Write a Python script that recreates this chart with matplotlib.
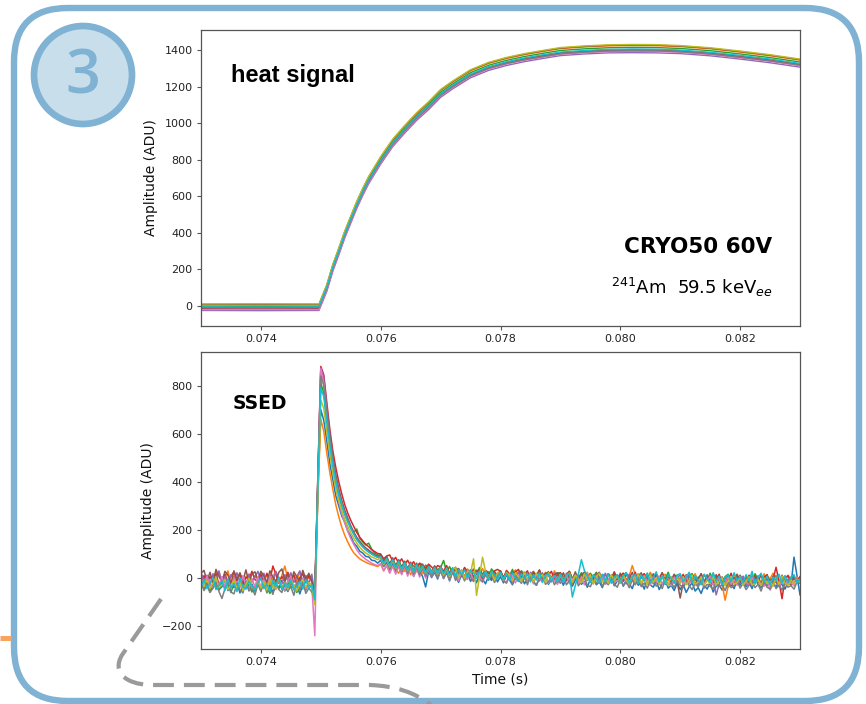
import matplotlib
matplotlib.use("Agg")
import matplotlib.pyplot as plt
from matplotlib.patches import FancyBboxPatch, Circle, PathPatch
from matplotlib.path import Path

# ---------------------------------------------------------------- data
trace_colors = ["#1f77b4", "#ff7f0e", "#2ca02c", "#d62728", "#9467bd",
                "#8c564b", "#e377c2", "#7f7f7f", "#bcbd22", "#17becf"]

# heat channel (ADU) at these times (s)
t_heat = [0.0730, 0.0740, 0.07497, 0.0751, 0.0752, 0.0753, 0.0754, 0.0755,
          0.0756, 0.0757, 0.0758, 0.0760, 0.0762, 0.0764, 0.0766, 0.0768,
          0.0770, 0.0772, 0.0775, 0.0778, 0.0781, 0.0784, 0.0787, 0.0790,
          0.0794, 0.0798, 0.0802, 0.0806, 0.0810, 0.0815, 0.0820, 0.0825, 0.0830]
heat_traces = [
    [-12, -11, -12, 92, 202, 291, 384, 465, 545, 616, 681, 788, 883, 957, 1027, 1086, 1153,
     1199, 1260, 1300, 1327, 1348, 1365, 1381, 1390, 1396, 1397, 1396, 1392, 1380, 1362, 1342, 1318],
    [6, 7, 6, 111, 221, 311, 404, 486, 566, 638, 703, 811, 906, 981, 1051, 1111, 1178,
     1224, 1286, 1326, 1353, 1374, 1391, 1407, 1416, 1422, 1424, 1423, 1418, 1406, 1388, 1368, 1344],
    [-4, -3, -4, 101, 211, 301, 394, 476, 556, 628, 693, 801, 896, 971, 1041, 1101, 1168,
     1214, 1276, 1316, 1343, 1364, 1381, 1397, 1406, 1412, 1414, 1413, 1408, 1396, 1378, 1358, 1334],
    [-16, -15, -16, 89, 199, 289, 382, 464, 544, 616, 681, 789, 884, 959, 1029, 1089, 1156,
     1202, 1264, 1304, 1331, 1352, 1369, 1385, 1394, 1400, 1402, 1401, 1396, 1384, 1366, 1346, 1322],
    [-24, -25, -24, 80, 190, 279, 372, 453, 533, 604, 669, 776, 871, 945, 1015, 1074, 1141,
     1187, 1248, 1288, 1315, 1336, 1353, 1369, 1378, 1384, 1385, 1384, 1380, 1368, 1350, 1330, 1306],
    [9, 10, 9, 114, 224, 314, 407, 489, 569, 641, 706, 814, 909, 984, 1054, 1114, 1181,
     1227, 1289, 1329, 1356, 1377, 1394, 1410, 1419, 1425, 1427, 1426, 1421, 1409, 1391, 1371, 1347],
    [-19, -18, -19, 86, 195, 285, 377, 459, 539, 610, 675, 783, 877, 952, 1022, 1082, 1148,
     1194, 1256, 1296, 1323, 1344, 1360, 1376, 1385, 1391, 1393, 1392, 1387, 1375, 1357, 1338, 1314],
    [-8, -9, -8, 96, 205, 294, 386, 467, 546, 618, 682, 789, 883, 957, 1027, 1086, 1152,
     1198, 1259, 1299, 1326, 1346, 1363, 1379, 1388, 1394, 1396, 1395, 1390, 1378, 1360, 1340, 1317],
    [12, 13, 12, 117, 227, 317, 410, 492, 572, 644, 709, 817, 912, 987, 1057, 1117, 1184,
     1230, 1292, 1332, 1359, 1380, 1397, 1413, 1422, 1428, 1430, 1429, 1424, 1412, 1394, 1374, 1350],
    [0, 1, 0, 104, 213, 302, 394, 476, 555, 626, 691, 798, 892, 966, 1036, 1095, 1161,
     1207, 1268, 1308, 1335, 1356, 1373, 1388, 1397, 1403, 1405, 1404, 1399, 1387, 1370, 1350, 1326],
]

# SSED channel (ADU), digitised every 50 us from t = 0.073 s
ssed_t0 = 0.073
ssed_dt = 5e-5
ssed_traces = [
    [-10, -45, -22, -58, -30, -15, -48, -36, -8, -52, -27, -40, -18, -62, -33, -12, -46, -25, -55, -20,
     -38, -14, -50, -28, -60, -24, -42, -10, -35, -56, -19, -44, -30, -66, -26, -48, -16, -40, -90, 350,
     700, 655, 570, 478, 410, 342, 300, 258, 232, 196, 175, 146, 132, 112, 104, 90, 88, 74, 72, 62,
     74, 48, 66, 34, 58, 28, 50, 18, 44, 22, 40, 8, 36, 30, 6, -37, 28, 2, 24, -4,
     30, -2, 22, -12, 26, 8, -18, 14, -6, 20, -14, 10, -20, 16, -4, -24, 8, -10, 12, -16,
     6, -20, 14, -8, -28, 2, -14, 10, -24, -4, 16, -18, -30, 0, -12, 8, -26, -6, 12, -22,
     -2, -30, 6, -18, -34, -8, 10, -26, -14, -38, -4, 4, -28, -16, -40, -6, -22, 2, -32, -12,
     0, -34, -10, -24, -44, -6, -30, -18, -46, -2, -28, -38, -12, -48, -22, -8, -42, -30, -52, -20,
     -48, -26, -60, -36, -20, -54, -40, -64, -30, -46, -18, -58, -34, -28, -50, -10, -38, -24, -44, -6,
     -30, -8, -36, -18, -44, -4, -26, -40, -14, -32, 0, -22, -38, -12, -28, -46, -16, -30, 87, 10,
     -70],
    [18, -20, 6, -28, 12, -8, 24, -15, 2, 30, -22, 8, -12, 20, -30, 4, 16, -18, 10, -4,
     22, -10, 14, -26, 6, 28, -16, 10, 50, -6, -24, 16, -12, 26, -20, 8, 0, -14, -70, 330,
     660, 610, 520, 440, 370, 305, 255, 212, 178, 150, 125, 105, 92, 80, 72, 66, 60, 56, 52, 48,
     58, 30, 52, 24, 48, 36, 20, 50, 28, 44, 14, 40, 26, 48, 18, 34, 42, 12, 36, 24,
     50, 18, 40, 10, 34, 46, 14, 28, 8, 38, 22, 2, 32, 16, 40, 6, 24, 30, 0, 20,
     30, 4, 22, -6, 18, 34, 0, 14, 26, -10, 16, 28, 2, 20, -8, 24, 10, -4, 30, 6,
     22, -10, 14, 28, -4, 10, -18, 16, 4, 24, -12, 8, 20, -6, 12, -16, 18, 2, -8, 14,
     -6, 20, -14, 8, 52, 14, -20, 4, 18, -10, 24, -4, 10, -22, 6, 16, -12, 2, -18, 12,
     -8, 16, -20, 6, -2, 18, -14, 4, -24, 12, -6, 20, -16, 2, -26, -92, -34, -8, 14, -12,
     10, -18, 2, -26, 14, -8, 6, -20, 18, -14, -2, 20, -10, -28, 8, -16, 12, -4, -22, 4,
     -8],
    [-8, -42, -24, -56, -18, -36, -50, -14, -40, -28, -60, -20, -46, -32, -10, -44, -26, -58, -34, -16,
     -48, -22, -38, -64, -26, -12, -44, -30, -54, -18, -40, -28, -60, -36, -16, -50, -24, -42, -80, 380,
     810, 770, 660, 560, 470, 400, 345, 300, 265, 235, 210, 190, 204, 165, 150, 138, 145, 120, 104, 95,
     96, 70, 88, 60, 80, 52, 74, 46, 68, 38, 62, 50, 44, 60, 32, 54, 40, 28, 50, 34,
     44, 73, 26, 48, 18, 40, 30, 12, 42, 24, 8, 36, 20, 44, 14, 30, 4, 38, 22, 10,
     28, 2, 24, 10, 36, -4, 20, 30, 6, 18, -8, 26, 12, 32, 0, 16, 24, -6, 14, 22,
     20, -6, 12, 26, -2, 16, 0, 22, 8, -10, 18, 4, 24, -4, 10, 16, -12, 6, 20, 0,
     -10, 14, 22, -6, 8, -16, 18, 2, -8, 20, -14, 6, 16, -20, 10, -4, 24, -12, 4, 12,
     -14, 8, -22, 12, 18, -10, 4, -24, 14, -6, 20, -18, 0, 10, -26, 6, 16, -12, 2, -20,
     12, -10, -24, 8, -16, 18, -6, -22, 2, 14, -18, 0, 10, -28, -8, 6, -20, 4, -2, -14,
     -6],
    [-20, 10, -26, 6, -14, 22, -30, -4, 16, -18, 8, 26, -12, 18, -24, 4, -8, 28, -6, -16,
     14, -16, 20, -10, 50, 16, -22, 6, -14, 24, -4, 12, -28, 2, 18, -20, 10, -12, -60, 400,
     880, 845, 730, 620, 530, 460, 400, 350, 305, 270, 240, 215, 190, 170, 155, 140, 130, 118, 110, 102,
     100, 80, 92, 96, 70, 86, 62, 80, 56, 74, 50, 68, 44, 62, 54, 40, 58, 46, 32, 52,
     46, 28, 52, 20, 42, 30, 40, 14, 44, 24, 10, 38, 26, 34, 6, 32, 22, 12, 30, 36,
     28, 0, 32, 18, -4, 26, 36, 4, 14, 30, -6, 24, 8, 34, -2, 20, 12, 28, -8, 16,
     22, -2, 14, 28, -8, 18, 6, -10, 24, 2, 16, -12, 20, 4, 12, -14, 18, -2, 26, -6,
     10, 20, -10, 14, -4, 24, -16, 6, 18, -8, 12, -20, 16, 0, 22, -12, 8, -22, 14, 2,
     -12, 14, -8, -24, 10, -2, -20, 18, -16, 6, -28, 12, -6, 16, -22, 2, -10, 20, -18, 8,
     -16, 4, -26, 12, -20, 8, -12, -30, 2, 14, -24, -6, 45, -14, -86, 0, 10, -22, 6, -14,
     6],
    [24, -14, 12, -28, 18, -6, 30, -20, 8, -26, 14, -10, 22, -18, 4, -30, 16, -12, 2, 28,
     -8, 20, -22, 10, -16, 26, -4, -24, 14, -12, 22, -18, 6, 30, -14, 10, -24, 16, -70, 420,
     875, 835, 715, 600, 505, 430, 370, 322, 282, 250, 218, 192, 170, 152, 138, 125, 116, 106, 98, 92,
     92, 64, 84, 54, 78, 46, 70, 40, 64, 30, 60, 26, 54, 24, 50, 16, 48, 20, 42, 14,
     44, 14, 38, 8, 36, 42, 6, 34, 0, 32, 24, -2, 30, 10, -4, 28, 4, 24, -6, 20,
     22, 0, 16, -8, 20, 4, 26, -6, 14, -14, 24, 2, 18, -12, 22, -2, 16, -16, 20, -4,
     14, -16, 20, -2, -20, 16, 6, -14, 22, -8, 10, -22, 18, -4, -14, 20, -10, 8, -18, 12,
     -12, 10, -24, 16, -2, -20, 12, -28, 8, -10, 18, -24, 4, -14, 14, -26, 6, -6, -22, 2,
     12, -22, -4, 16, -20, 2, -30, 10, -16, 14, -24, -6, -70, -26, 4, -16, 10, -32, -10, 2,
     -20, 8, -30, -8, 6, -24, 10, -32, -14, 0, -28, 4, -18, -36, -10, 8, -26, -14, 4, -22,
     -8],
    [20, 32, -14, 24, -20, 36, 6, -16, 28, 12, -24, 30, -6, 22, -12, 34, -18, 16, 26, -8,
     28, 8, -20, 30, 4, -14, 24, 38, -10, 18, -22, 26, 6, -16, 32, -4, 20, -12, -60, 410,
     860, 820, 705, 595, 500, 425, 366, 318, 278, 245, 214, 188, 166, 150, 136, 124, 114, 105, 97, 90,
     96, 66, 88, 56, 84, 48, 76, 42, 70, 38, 66, 32, 62, 28, 58, 30, 52, 24, 50, 20,
     48, 18, 44, 12, 40, 10, 38, 6, 36, 14, 34, 2, 32, 26, 0, 30, 24, -2, 28, 4,
     30, -2, 24, -8, 26, 20, -10, 28, -4, 22, -12, 24, -6, 30, -14, 16, 26, -8, 14, 22,
     -4, 22, -12, 20, -6, 26, -16, 14, 24, -10, 20, -18, 12, 24, -6, -14, 18, -8, 16, -12,
     20, -14, 16, -6, 24, -18, 8, 22, -12, 14, -22, 18, -4, -10, 22, -24, 12, -8, 16, -16,
     -83, -20, 14, -16, 10, -26, -2, 18, -22, 8, -12, -28, 14, -18, 4, -24, 10, -32, -8, 16,
     -12, -26, 10, -20, -30, 6, -16, 14, -24, -6, -28, 8, -18, -22, 12, -20, -6, -28, 4, -14,
     -4],
    [2, -34, 8, -28, -42, -4, -32, 6, -38, -12, -46, 0, -26, -40, 10, -30, -44, -2, -36, 4,
     -40, -6, -44, 8, -30, -48, -2, -36, -50, -10, 6, -42, -20, -38, -4, -46, -24, -30, -240, 360,
     870, 810, 680, 560, 460, 380, 318, 268, 228, 194, 164, 140, 118, 100, 88, 78, 70, 62, 56, 52,
     60, 30, 54, 20, 50, 16, 48, 14, 46, 8, 42, 6, 40, 4, 38, 0, 36, 6, 32, 2,
     34, -2, 30, -8, 28, 20, -12, 26, 0, -6, 24, -14, 22, 6, -16, 18, -4, 22, -18, 14,
     16, -10, -22, 18, 2, -20, 14, -12, 20, -18, 10, -24, 16, -4, -16, 12, -22, 8, -10, -26,
     10, -18, 14, -24, -6, 12, -20, 4, -28, 14, -12, -24, 10, -16, 6, -26, -8, 12, -20, -10,
     -22, 8, -16, -28, 12, -20, -6, -26, 10, -14, -30, 6, -18, 8, -26, -10, -22, -32, 4, -16,
     -4, -26, 10, -22, -8, -30, -16, 6, -24, -12, 8, -28, -18, 2, -32, -20, 4, -26, -6, -30,
     6, -24, -14, -30, 2, -20, -8, -28, -34, -12, -50, -26, 4, -30, -18, 6, -28, -20, -32, -4,
     -12],
    [-18, -52, -30, -60, -42, -20, -56, -85, -44, -16, -58, -66, -24, -48, -62, -14, -54, -40, -70, -26,
     -56, -18, -62, -38, -68, -22, -48, -60, -14, -54, -36, -72, -20, -50, -16, -64, -42, -58, -90, 390,
     840, 800, 690, 580, 490, 415, 356, 310, 272, 240, 210, 184, 162, 145, 130, 118, 108, 100, 92, 86,
     82, 50, 74, 40, 68, 32, 60, 28, 54, 20, 52, 16, 46, 14, 42, 8, 40, 6, 34, 2,
     36, 0, 32, -6, 28, -10, 26, 18, -12, 24, 4, -14, 22, -6, -16, 18, -10, 14, -18, 10,
     16, -12, -20, 12, -24, 14, -8, -22, 10, -28, 8, -14, -30, 4, 12, -26, -16, 6, -28, -6,
     -22, 8, -28, -10, -26, 6, -32, -14, 2, -30, -36, -8, -24, 6, -34, -16, -28, 0, -26, -38,
     -4, -30, -16, -40, -8, -28, 0, -36, -20, -42, -12, -2, -34, -22, -44, -6, -30, -18, -40, -10,
     -30, -40, -14, -32, -48, -20, -38, -8, -42, -26, -34, -46, -16, -36, -28, -52, -18, -40, -30, -10,
     -42, -22, -48, -30, -12, -40, -26, -54, -16, -38, -46, -8, -44, -28, -50, -20, -38, -32, -46, -16,
     -22],
    [-2, -36, -8, -44, -22, 4, -40, -28, -6, -48, -30, -10, -42, -18, -52, -26, 0, -38, -46, -14,
     -42, -16, -50, -4, -34, -44, 2, -38, -20, -48, -8, -32, -54, -22, -6, -40, -18, -36, -110, 340,
     740, 705, 610, 520, 440, 375, 322, 280, 245, 215, 188, 165, 145, 128, 115, 104, 96, 88, 82, 76,
     84, 56, 78, 46, 72, 40, 66, 34, 62, 30, 58, 26, 54, 28, 48, 20, 46, 22, 42, 16,
     44, 12, 40, 6, 36, 42, 2, 34, -2, 30, 22, 80, -72, 6, 87, 28, -4, 26, -10, 22,
     20, -8, 24, 10, -12, 22, 4, -14, 26, -4, 18, -16, 20, 2, 14, -18, 22, -6, 10, -12,
     16, -14, 8, 22, -18, 12, -4, -20, 18, -8, 14, -24, 6, 20, -16, 2, -22, 14, -10, 8,
     -18, 12, -10, -24, 10, -16, 18, -22, 4, -28, 14, -18, 2, -26, 10, -12, -30, 6, -20, 8,
     -22, 6, -28, -10, 12, -26, -16, 4, -30, -6, -24, 8, -28, -14, 2, -32, -12, 6, -26, -18,
     4, -28, -16, 6, -30, -20, -6, -32, 0, -24, -14, -34, -2, -26, 8, -20, -30, -8, -24, -16,
     -12],
    [-38, -6, -44, -20, 2, -48, -30, -12, -52, -4, -40, -24, -56, 0, -36, -46, -14, -32, -50, -18,
     -2, -44, -26, -54, -10, -36, 4, -48, -22, -40, -8, -50, -34, -14, -46, -6, -42, -28, -90, 370,
     790, 755, 650, 555, 470, 402, 348, 304, 266, 235, 206, 182, 160, 144, 130, 118, 108, 100, 93, 86,
     88, 60, 82, 50, 76, 42, 70, 36, 64, 32, 60, 26, 56, 28, 50, 22, 48, 18, 44, 20,
     44, 18, 42, 12, 40, 6, 36, 14, 34, 0, 32, 22, -2, 30, 6, 28, -6, 26, 14, -4,
     24, -6, 20, -10, 22, 0, -14, 18, -4, 20, -16, 14, -8, 22, -18, 12, 16, -12, 10, -14,
     14, -16, 10, 20, -79, -30, 16, 76, 32, 10, -18, 14, -6, -20, 16, -14, 18, -22, 4, 14,
     -16, 10, 22, -20, 4, 16, -24, 12, -10, 20, -20, 2, 26, -16, 8, -26, 14, -2, -20, 12,
     18, -14, 4, 24, -20, 10, -8, -28, 16, -2, -18, 22, -12, 8, -26, 2, 14, -16, 22, -10,
     4, -20, 14, -12, 28, -24, 2, 20, -16, 8, -28, 4, -10, 16, -22, 10, -18, 2, 14, -20,
     -4],
]

x_ticks = [0.074, 0.076, 0.078, 0.080, 0.082]
x_tick_labels = ["0.074", "0.076", "0.078", "0.080", "0.082"]
heat_yticks = [0, 200, 400, 600, 800, 1000, 1200, 1400]
ssed_yticks = [-200, 0, 200, 400, 600, 800]

# ---------------------------------------------------------------- figure
W, H = 866, 704
fig = plt.figure(figsize=(W / 100, H / 100), dpi=100)
fig.patch.set_facecolor("white")

frame_blue = "#7fb2d3"

# background frame, numbered badge and dashed connector
deco = fig.add_axes([0, 0, 1, 1], zorder=-1)
deco.set_xlim(0, W)
deco.set_ylim(H, 0)
deco.axis("off")
deco.patch.set_alpha(0)

deco.add_patch(FancyBboxPatch((14, 8), 845, 693,
                              boxstyle="round,pad=0,rounding_size=54",
                              fc="none", ec=frame_blue, lw=4.6))
deco.add_patch(Circle((83, 75), 49, fc="#c8deeb", ec=frame_blue, lw=4.8))
deco.text(83, 78, "3", fontsize=44, color=frame_blue, ha="center", va="center",
          family="Open Sans", fontweight="semibold")

conn = Path([(161, 599), (122, 655), (112, 672), (125, 684), (150, 685),
             (370, 685), (395, 686), (415, 692), (432, 706)],
            [Path.MOVETO, Path.LINETO, Path.CURVE4, Path.CURVE4, Path.CURVE4,
             Path.LINETO, Path.CURVE4, Path.CURVE4, Path.CURVE4])
deco.add_patch(PathPatch(conn, fc="none", ec="#9a9a9a", lw=3.0,
                         ls=(0, (5, 2.4)), capstyle="butt"))
deco.plot([0, 11], [637.5, 637.5], color="#f5a462", lw=3.6,
          solid_capstyle="butt")

# data axes
ax1 = fig.add_axes([201 / W, 1 - 326 / H, 599 / W, 296 / H])
ax2 = fig.add_axes([201 / W, 1 - 649 / H, 599 / W, 297 / H])

for ys, c in zip(heat_traces, trace_colors):
    n = min(len(t_heat), len(ys))
    ax1.plot(t_heat[:n], ys[:n], color=c, lw=1.0)

for ys, c in zip(ssed_traces, trace_colors):
    ts = [round(ssed_t0 + ssed_dt * i, 5) for i in range(len(ys))]
    ax2.plot(ts, ys, color=c, lw=1.1)

ax1.set_ylim(-109, 1509)
ax2.set_ylim(-295, 940)
ax1.set_yticks(heat_yticks)
ax2.set_yticks(ssed_yticks)

for ax in (ax1, ax2):
    ax.set_xlim(0.073, 0.083)
    ax.set_xticks(x_ticks)
    ax.set_xticklabels(x_tick_labels)
    ax.tick_params(labelsize=8, length=3, width=0.8, color="#555555",
                   labelcolor="#222222", pad=3)
    for s in ax.spines.values():
        s.set_color("#555555")
        s.set_linewidth(0.9)
    ax.set_ylabel("Amplitude (ADU)", fontsize=10, color="#111111", labelpad=5)

ax2.set_xlabel("Time (s)", fontsize=10, color="#111111", labelpad=4)

ax1.text(0.05, 0.845, "heat signal", transform=ax1.transAxes, fontsize=17,
         fontweight="bold", family="Liberation Sans", va="center", ha="left")
ax1.text(0.953, 0.267, "CRYO50 60V", transform=ax1.transAxes, fontsize=15.5,
         fontweight="bold", va="center", ha="right")
ax1.text(0.955, 0.13, r"$^{241}$Am  59.5 keV$_{ee}$", transform=ax1.transAxes,
         fontsize=13, va="center", ha="right")
ax2.text(0.052, 0.827, "SSED", transform=ax2.transAxes, fontsize=13.5,
         fontweight="bold", va="center", ha="left")

fig.savefig("out.png", dpi=100)
